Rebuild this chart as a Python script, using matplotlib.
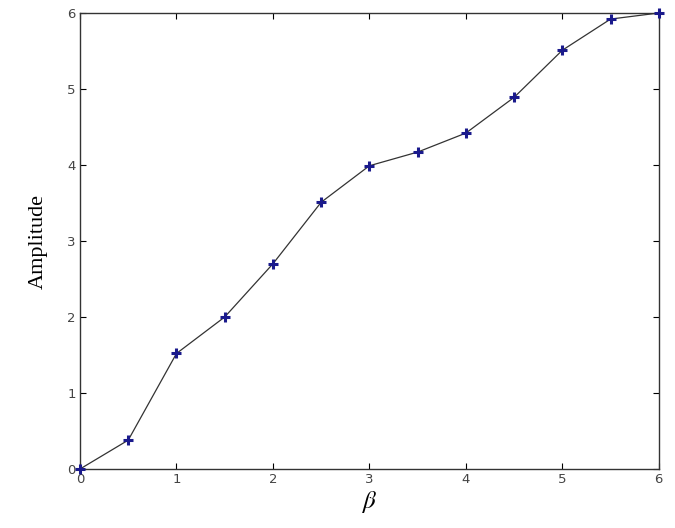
import matplotlib
matplotlib.use("Agg")
import matplotlib.pyplot as plt
import numpy as np

plt.rcParams["mathtext.fontset"] = "stix"

# --- data ---
beta = [0, 0.5, 1, 1.5, 2, 2.5, 3, 3.5, 4, 4.5, 5, 5.5, 6]
amplitude = [0, 0.38, 1.52, 2.0, 2.7, 3.51, 3.99, 4.17, 4.42, 4.89, 5.51, 5.92, 6.0]
ticks = [0, 1, 2, 3, 4, 5, 6]

fig = plt.figure(figsize=(6.75, 5.28), dpi=100)
ax = fig.add_axes([0.1185, 0.1117, 0.8575, 0.8637])

ax.plot(beta, amplitude, color="#333333", linewidth=0.9, linestyle="-")
ax.plot(beta, amplitude, linestyle="none", marker="+", markersize=7,
        markeredgewidth=2.2, color="#1a1a8c", clip_on=False, zorder=5)

ax.set_xlim(0, 6)
ax.set_ylim(0, 6)
ax.set_xticks(ticks)
ax.set_yticks(ticks)
ax.tick_params(direction="in", top=True, right=True, length=4, width=0.8,
               labelsize=9.5, labelcolor="#444444", pad=3)
for side in ax.spines.values():
    side.set_linewidth(1.0)
    side.set_color("#333333")

ax.set_xlabel(r"$\beta$", fontsize=18, labelpad=2)
ax.set_ylabel("Amplitude", family="Liberation Serif", fontsize=16, labelpad=14)

fig.savefig("out.png", dpi=100)
